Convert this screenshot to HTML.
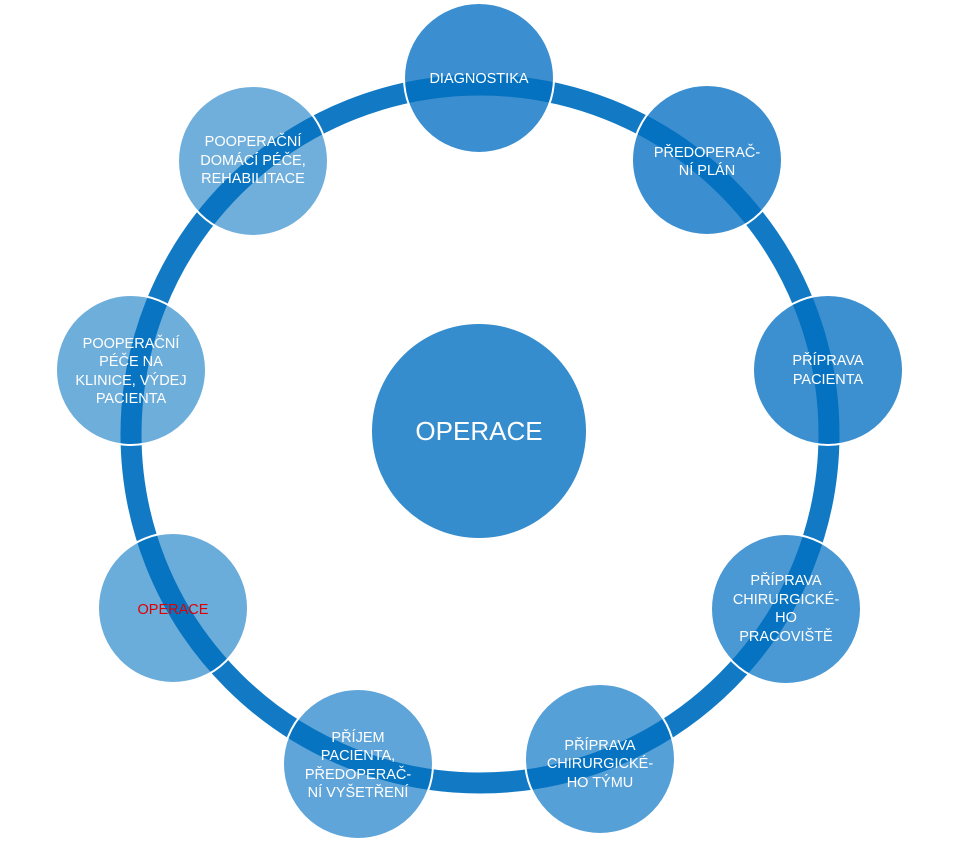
<!DOCTYPE html>
<html><head><meta charset="utf-8"><style>html,body{margin:0;padding:0;background:#fff}</style></head>
<body>
<svg width="959" height="842" viewBox="0 0 959 842" xmlns="http://www.w3.org/2000/svg" font-family="Liberation Sans, sans-serif">
<g>
<circle cx="479" cy="78" r="75" fill="#3b8fd0"/>
<circle cx="707" cy="160" r="75" fill="#3b8fd0"/>
<circle cx="828" cy="370" r="75" fill="#3c90d0"/>
<circle cx="786" cy="609" r="75" fill="#4a98d4"/>
<circle cx="600" cy="759" r="75" fill="#56a0d8"/>
<circle cx="358" cy="764" r="75" fill="#5fa5d9"/>
<circle cx="173" cy="608" r="75" fill="#6aacda"/>
<circle cx="131" cy="370" r="75" fill="#6eaedb"/>
<circle cx="253" cy="161" r="75" fill="#70afdb"/>
</g>
<circle cx="480" cy="434" r="349" fill="none" stroke="#0070c0" stroke-width="21" stroke-opacity="0.93"/>
<g stroke="#fff" stroke-width="2" fill="none">
<circle cx="479" cy="78" r="75"/>
<circle cx="707" cy="160" r="75"/>
<circle cx="828" cy="370" r="75"/>
<circle cx="786" cy="609" r="75"/>
<circle cx="600" cy="759" r="75"/>
<circle cx="358" cy="764" r="75"/>
<circle cx="173" cy="608" r="75"/>
<circle cx="131" cy="370" r="75"/>
<circle cx="253" cy="161" r="75"/>
</g>
<circle cx="479" cy="431" r="107" fill="#368dcd"/>
<g fill="#fff" font-size="14.5" text-anchor="middle">
<text x="479" y="83">DIAGNOSTIKA</text>
<text x="707" y="157">PŘEDOPERAČ-</text><text x="707" y="175">NÍ PLÁN</text>
<text x="828" y="365">PŘÍPRAVA</text><text x="828" y="384">PACIENTA</text>
<text x="786" y="585">PŘÍPRAVA</text><text x="786" y="604">CHIRURGICKÉ-</text><text x="786" y="622">HO</text><text x="786" y="641">PRACOVIŠTĚ</text>
<text x="600" y="750">PŘÍPRAVA</text><text x="600" y="768">CHIRURGICKÉ-</text><text x="600" y="787">HO TÝMU</text>
<text x="358" y="742">PŘÍJEM</text><text x="358" y="760">PACIENTA,</text><text x="358" y="779">PŘEDOPERAČ-</text><text x="358" y="797">NÍ VYŠETŘENÍ</text>
<text x="173" y="614" fill="#e00000">OPERACE</text>
<text x="131" y="348">POOPERAČNÍ</text><text x="131" y="366">PÉČE NA</text><text x="131" y="385">KLINICE, VÝDEJ</text><text x="131" y="403">PACIENTA</text>
<text x="253" y="146">POOPERAČNÍ</text><text x="253" y="165">DOMÁCÍ PÉČE,</text><text x="253" y="183">REHABILITACE</text>
<text x="479" y="440" font-size="26">OPERACE</text>
</g>
</svg>
</body></html>
